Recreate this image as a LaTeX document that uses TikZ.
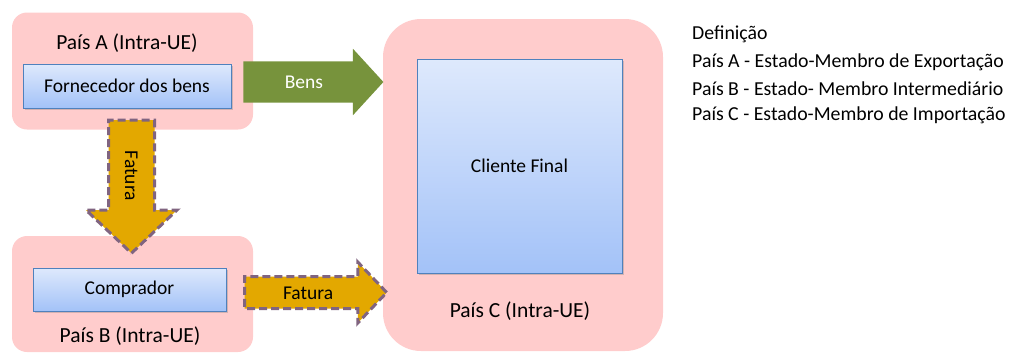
\documentclass[tikz,border=0pt]{standalone}
\usepackage{fontspec}
\setmainfont{Carlito}
\usepackage{tikz}
\usetikzlibrary{shapes,shapes.arrows,shadows,calc,positioning}

\definecolor{paispink}{RGB}{255,204,204}
\definecolor{clitop}{RGB}{222,233,252}
\definecolor{clibot}{RGB}{163,194,248}
\definecolor{cliedge}{RGB}{79,129,189}
\definecolor{bensgreen}{RGB}{119,147,60}
\definecolor{faturagold}{RGB}{227,168,0}
\definecolor{faturaedge}{RGB}{128,100,128}

\begin{document}
\begin{tikzpicture}[x=1pt,y=-1pt]
	\tikzstyle{pais} = [rectangle,rounded corners=15pt,fill=paispink,minimum width=241pt,minimum height=117pt]
	\tikzstyle{block} = [draw=cliedge,rectangle,line width=0.8pt,top color=clitop,bottom color=clibot,drop shadow={shadow xshift=1.5pt,shadow yshift=-1.5pt,opacity=0.35},font=\fontsize{19.5}{22}\selectfont]
	\tikzstyle{paisname} = [font=\fontsize{21.5}{24}\selectfont]
	\tikzstyle{bensarrow} = [single arrow,fill=bensgreen,anchor=tail,inner sep=0pt,single arrow tip angle=95,text=white,font=\fontsize{19.5}{22}\selectfont]
	\tikzstyle{faturaarrow} = [single arrow,fill=faturagold,draw=faturaedge,line width=3pt,dash pattern=on 8pt off 4pt,anchor=tail,inner sep=0pt,single arrow tip angle=93,font=\fontsize{19.5}{22}\selectfont]
	\tikzstyle{legend} = [anchor=west,inner sep=0pt,font=\fontsize{19.8}{22}\selectfont]

	\useasboundingbox (0,0) rectangle (1013,354);

	% paises
	\node[pais] (A) at (132.5,71) {};
	\node[pais,minimum height=116pt] (B) at (132.5,294) {};
	\node[pais,rounded corners=38pt,minimum width=280pt,minimum height=332pt] (C) at (523,185) {};

	\node[paisname] (nomeA) at (127,43) {País A (Intra-UE)};
	\node[paisname] (nomeB) at (130,336) {País B (Intra-UE)};
	\node[paisname] (nomeC) at (520,311) {País C (Intra-UE)};

	\node[block,minimum width=208pt,minimum height=44pt] (forn) at (127,86) {Fornecedor dos bens};
	\node[block,minimum width=193pt,minimum height=43pt] (comp) at (129.5,289.5) {Comprador};
	\node[block,minimum width=205pt,minimum height=214pt] (cli) at (519.5,166) {Cliente Final};

	% setas
	\node[bensarrow,text height=27pt,text depth=14pt,minimum width=66pt,single arrow head extend=12.5pt,minimum height=140pt] (bens) at ([xshift=-10pt,yshift=-11pt]A.east) {Bens};
	\node[faturaarrow,rotate=-90,text height=28pt,text depth=15pt,minimum width=88pt,single arrow head extend=22.5pt,minimum height=133pt] (fatAB) at ([xshift=-1pt,yshift=11pt]A.south) {Fatura};
	\node[faturaarrow,text height=21pt,text depth=8pt,minimum width=58pt,single arrow head extend=14.5pt,minimum height=142pt] (fatBC) at ([xshift=-10pt,yshift=1.5pt]B.east) {Fatura};

	% legenda
	\node[legend] (def) at (692,34) {Definição};
	\node[legend] (legA) at (692,62) {País A - Estado-Membro de Exportação};
	\node[legend] (legB) at (692,89) {País B - Estado- Membro Intermediário};
	\node[legend] (legC) at (692,115) {País C - Estado-Membro de Importação};

\end{tikzpicture}
\end{document}
